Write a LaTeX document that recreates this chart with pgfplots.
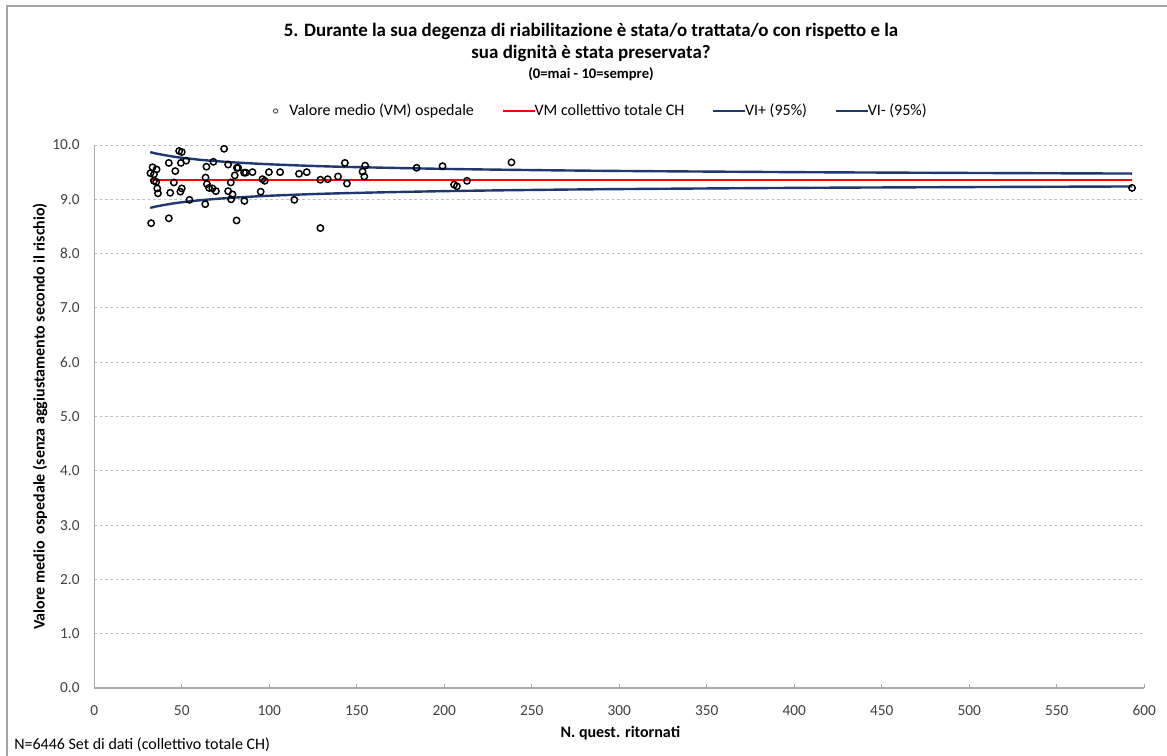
\documentclass[border=0pt]{standalone}
\usepackage{pgfplots}
\pgfplotsset{compat=1.18}
\usepackage{fontspec}
\setmainfont{Carlito}
\definecolor{navyci}{RGB}{31,56,112}
\definecolor{ticktxt}{RGB}{64,64,64}
\definecolor{gridc}{RGB}{190,190,190}
\definecolor{axc}{RGB}{170,170,170}
\pgfplotsset{
  linelegend/.style={legend image code/.code={\draw[##1] (0pt,0pt) -- (24pt,0pt);}},
  marklegend/.style={legend image code/.code={\node[draw=none, fill=none, inner sep=0pt, minimum width=10pt, minimum height=2pt] at (5pt,0pt) {};\draw[##1] plot coordinates {(4pt,0pt)};}},
}
\begin{document}
\begin{tikzpicture}
\useasboundingbox (0,0) rectangle (875.25pt,567pt);
\draw[gray!70, line width=0.8pt] (5.25pt,0pt) -- (5.25pt,562.5pt) -- (875.25pt,562.5pt);
\begin{axis}[
  at={(70.7pt,51pt)}, anchor=south west,
  scale only axis, width=787.5pt, height=407.25pt,
  xmin=0, xmax=600, ymin=0, ymax=10,
  xtick={0,50,...,600}, ytick={0,1,...,10},
  axis x line*=bottom, axis y line*=left,
  axis line style={axc, line width=0.8pt, -},
  xtick style={axc, line width=0.6pt}, ytick style={draw=none},
  tick align=inside, major tick length=3pt,
  ymajorgrids, grid style={gridc, dash pattern=on 2pt off 2pt, line width=0.6pt},
  /pgf/number format/assume math mode=true,
  yticklabel style={/pgf/number format/fixed, /pgf/number format/fixed zerofill, /pgf/number format/precision=1, xshift=-7.5pt},
  ticklabel style={font=\fontsize{11.5}{13}\selectfont, text=ticktxt},
  xticklabel style={yshift=-9.5pt},
  xlabel={\bfseries N. quest. ritornati},
  xlabel style={at={(axis description cs:0.501,-0.0829)}, anchor=center, font=\fontsize{12}{14}\selectfont},
  ylabel={\bfseries Valore medio\ \ ospedale (senza aggiustamento secondo il rischio)},
  ylabel style={at={(axis description cs:-0.0517,0.5)}, anchor=center, font=\fontsize{12}{14}\selectfont},
  legend style={at={(axis description cs:0.483,1.0626)}, anchor=center, draw=none, fill=none,
    font=\fontsize{12}{14}\selectfont, legend columns=4,
    /tikz/every even column/.append style={column sep=19pt},
    /tikz/every odd column/.append style={column sep=-3pt}},
  legend cell align=left,
]
\addlegendimage{only marks, mark=o, mark size=1.6pt, gray!60!black, line width=0.7pt, marklegend}
\addlegendentry{Valore medio (VM) ospedale}
\addlegendimage{red, line width=1.5pt, linelegend}
\addlegendentry{VM collettivo totale CH}
\addlegendimage{navyci, line width=1.5pt, linelegend}
\addlegendentry{VI+ (95\%)}
\addlegendimage{navyci, line width=1.5pt, linelegend}
\addlegendentry{VI- (95\%)}

% red mean line
\addplot[red, line width=2.2pt, forget plot] coordinates {(32,9.355) (593,9.355)};
% upper CI
\addplot[navyci, line width=1.8pt, smooth, forget plot] coordinates {
(32,9.868) (35,9.845) (40,9.814) (45,9.787) (50,9.765) (60,9.729) (70,9.702) (80,9.679)
(100,9.645) (125,9.614) (150,9.592) (200,9.560) (250,9.538) (300,9.522) (400,9.500) (500,9.485) (593,9.474)};
% lower CI
\addplot[navyci, line width=1.8pt, smooth, forget plot] coordinates {
(32,8.842) (35,8.865) (40,8.896) (45,8.923) (50,8.945) (60,8.981) (70,9.008) (80,9.031)
(100,9.065) (125,9.096) (150,9.118) (200,9.150) (250,9.172) (300,9.188) (400,9.210) (500,9.225) (593,9.236)};
% hospitals
\addplot[only marks, mark=o, mark size=2.4pt, black, line width=1.1pt, forget plot] coordinates {
(48.5,9.89) (50.0,9.87) (52.5,9.71) (49.5,9.67) (42.6,9.67) (33.3,9.59) (35.6,9.55) (46.3,9.52)
(32.1,9.48) (34.1,9.46) (34.1,9.34) (35.4,9.32) (45.5,9.31) (63.6,9.40) (64.4,9.28) (36.0,9.20)
(50.0,9.20) (36.4,9.11) (49.2,9.14) (43.4,9.12) (54.4,8.99) (63.4,8.91) (42.6,8.65) (32.5,8.56)
(74.2,9.93) (68.1,9.69) (76.5,9.64) (64.1,9.60) (81.5,9.58) (82.2,9.58) (80.3,9.44) (85.6,9.49)
(86.6,9.49) (90.4,9.50) (99.8,9.50) (78.0,9.31) (96.1,9.37) (97.4,9.34) (65.6,9.21) (67.5,9.20)
(69.5,9.15) (76.5,9.15) (79.0,9.09) (95.1,9.14) (78.2,9.00) (85.8,8.97) (81.3,8.61)
(106.2,9.50) (117.0,9.47) (121.4,9.50) (129.2,9.36) (133.4,9.37) (139.3,9.42) (143.2,9.67)
(144.4,9.29) (154.8,9.62) (153.3,9.51) (154.3,9.42) (114.3,8.99) (129.2,8.47)
(184.2,9.58) (199.0,9.61) (205.6,9.27) (207.2,9.24) (213.0,9.34) (238.4,9.68) (593,9.21)};
\end{axis}
\node[font=\bfseries\fontsize{14.2}{16}\selectfont, anchor=center] at (443.25pt,543.75pt) {5. Durante la sua degenza di riabilitazione è stata/o trattata/o con rispetto e la};
\node[font=\bfseries\fontsize{14.2}{16}\selectfont, anchor=center] at (443.25pt,527.25pt) {sua dignità è stata preservata?};
\node[font=\bfseries\fontsize{11}{13}\selectfont, anchor=center] at (443.25pt,511.5pt) {(0=mai - 10=sempre)};
\node[font=\fontsize{12}{14}\selectfont, anchor=west, inner sep=0pt] at (10.5pt,8.25pt) {N=6446 Set di dati (collettivo totale CH)};
\end{tikzpicture}
\end{document}
